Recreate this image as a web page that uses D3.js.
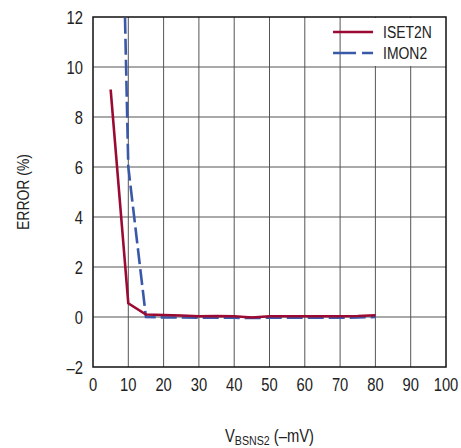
<!DOCTYPE html>
<html>
<head>
    <meta charset="utf-8">
    <script src="https://d3js.org/d3.v7.min.js"></script>
    <style>
        body {
            margin: 0;
            background: #fff;
        }

        svg text {
            font-family: "Liberation Sans", Arial, sans-serif;
            fill: #222;
        }

        .grid line {
            stroke: #555;
            stroke-width: 1px;
        }
    </style>
</head>
<body>
    <script>
        // values
        const vbsns = [5, 10, 15, 20, 25, 30, 35, 40, 45, 50, 55, 60, 65, 70, 75, 80];
        const iset2n = [9.1, 0.55, 0.1, 0.08, 0.06, 0.03, 0.04, 0.03, -0.02, 0.03, 0.03, 0.03, 0.03, 0.03, 0.04, 0.07];
        const imon2 = [38, 6, 0, -0.02, -0.02, -0.03, -0.03, -0.03, -0.04, -0.03, -0.03, -0.03, -0.03, -0.03, -0.02, 0];
        const xTicks = [0, 10, 20, 30, 40, 50, 60, 70, 80, 90, 100];
        const yTicks = [-2, 0, 2, 4, 6, 8, 10, 12];

        const series = [
            { name: "ISET2N", values: iset2n, color: "#9b0a32", dash: null },
            { name: "IMON2", values: imon2, color: "#3a58a8", dash: "16,5" }
        ];

        const width = 461, height = 448;
        const margin = { top: 17, right: 15, bottom: 81, left: 93 };
        const w = width - margin.left - margin.right;
        const h = height - margin.top - margin.bottom;
        const narrow = 0.82; // condensed look, like Helvetica Condensed

        const svg = d3.select("body").append("svg")
            .attr("width", width)
            .attr("height", height);

        const g = svg.append("g")
            .attr("transform", `translate(${margin.left},${margin.top})`);

        const x = d3.scaleLinear().domain([0, 100]).range([0, w]);
        const y = d3.scaleLinear().domain([-2, 12]).range([h, 0]);

        g.append("clipPath").attr("id", "plot")
            .append("rect").attr("width", w).attr("height", h);

        // grid
        const grid = g.append("g").attr("class", "grid");
        grid.selectAll(".v").data(xTicks.slice(1, -1)).enter().append("line")
            .attr("x1", d => x(d)).attr("x2", d => x(d))
            .attr("y1", 0).attr("y2", h);
        grid.selectAll(".h").data(yTicks.slice(1, -1)).enter().append("line")
            .attr("x1", 0).attr("x2", w)
            .attr("y1", d => y(d)).attr("y2", d => y(d));

        // legend box hides grid behind it
        g.append("rect")
            .attr("x", x(79.5) - 5).attr("y", 1)
            .attr("width", w - x(79.5) + 4).attr("height", y(10) - 2)
            .attr("fill", "#fff");

        // frame
        g.append("rect")
            .attr("width", w).attr("height", h)
            .attr("fill", "none")
            .attr("stroke", "#111")
            .attr("stroke-width", 1.5);

        const line = d3.line()
            .x((d, i) => x(vbsns[i]))
            .y(d => y(d));

        g.append("g").attr("clip-path", "url(#plot)")
            .selectAll("path").data(series.slice().reverse()).enter().append("path")
            .attr("d", d => line(d.values))
            .attr("fill", "none")
            .attr("stroke", d => d.color)
            .attr("stroke-width", 2.6)
            .attr("stroke-dasharray", d => d.dash);

        // tick labels
        g.selectAll(".xt").data(xTicks).enter().append("text")
            .attr("transform", d => `translate(${x(d)},${h + 24}) scale(${narrow},1)`)
            .attr("text-anchor", "middle")
            .attr("font-size", 18)
            .text(d => d);

        g.selectAll(".yt").data(yTicks).enter().append("text")
            .attr("transform", d => `translate(-10,${y(d) + 6.5}) scale(${narrow},1)`)
            .attr("text-anchor", "end")
            .attr("font-size", 18)
            .text(d => d < 0 ? "\u2013" + Math.abs(d) : d);

        // axis titles
        const xt = svg.append("text")
            .attr("transform", `translate(${margin.left + w / 2},442) scale(${narrow},1)`)
            .attr("text-anchor", "middle")
            .attr("font-size", 18);
        xt.append("tspan").text("V");
        xt.append("tspan").attr("font-size", 13).attr("dy", 3).text("BSNS2");
        xt.append("tspan").attr("dy", -3).text(" (\u2013mV)");

        svg.append("text")
            .attr("transform", `translate(29,${margin.top + y(5)}) rotate(-90) scale(${narrow},1)`)
            .attr("text-anchor", "middle")
            .attr("font-size", 17)
            .text("ERROR (%)");

        // legend
        const leg = g.append("g")
            .attr("transform", `translate(${x(68)},0)`);
        series.forEach((s, i) => {
            const ly = 15 + i * 21;
            leg.append("line")
                .attr("x1", 0).attr("x2", 40)
                .attr("y1", ly).attr("y2", ly)
                .attr("stroke", s.color)
                .attr("stroke-width", 2.6)
                .attr("stroke-dasharray", s.dash ? "23,6" : null);
            leg.append("text")
                .attr("transform", `translate(50,${ly + 6}) scale(${narrow},1)`)
                .attr("font-size", 17)
                .text(s.name);
        });
    </script>
</body>
</html>
